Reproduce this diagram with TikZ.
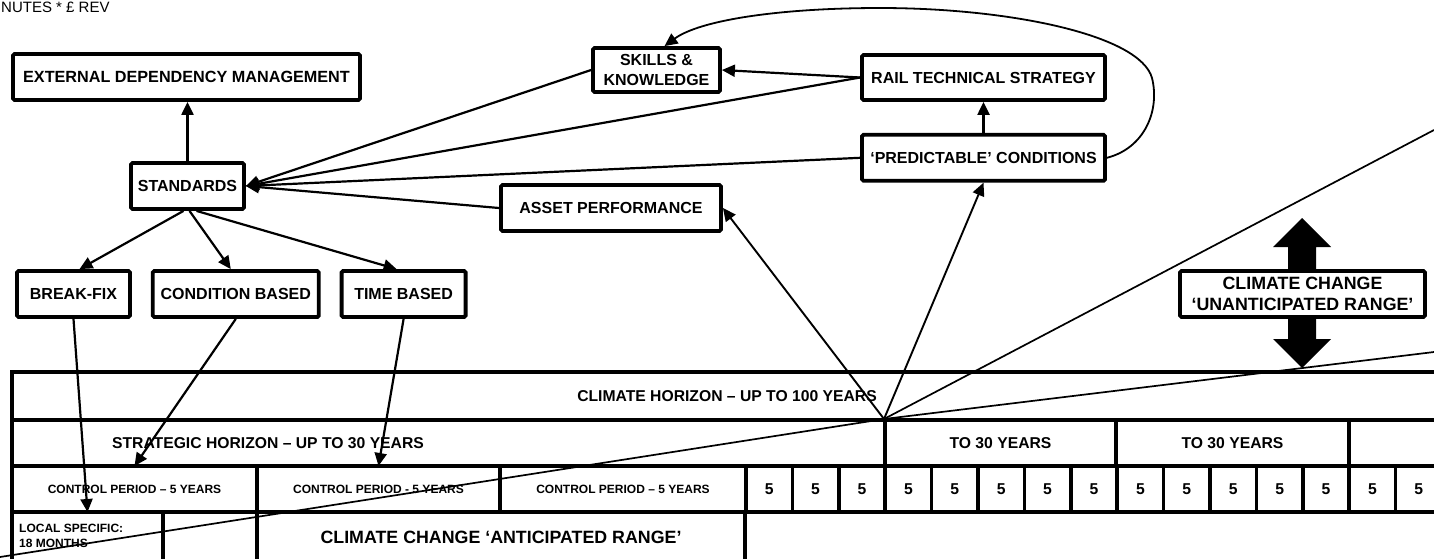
\documentclass[tikz,border=0pt]{standalone}
\usepackage{fontspec}
\setmainfont{Liberation Sans}
\usetikzlibrary{arrows.meta, positioning}

\begin{document}
\begin{tikzpicture}[x=1pt, y=-1pt,
    box/.style={draw, line width=3.8pt, rounded corners=1.5pt, fill=white, inner sep=0pt, align=center, font=\fontsize{16}{20}\selectfont\bfseries, minimum height=46pt},
    cell/.style={draw, line width=3.6pt, inner sep=0pt, outer sep=0pt, anchor=north west, minimum height=46pt, align=center, font=\fontsize{15.7}{19}\selectfont\bfseries},
    small/.style={font=\fontsize{12}{15}\selectfont\bfseries},
    conn/.style={line width=2.2pt, -{Triangle[length=13pt, width=12pt]}},
    ray/.style={line width=1.7pt},
    node distance=19pt
  ]
  \useasboundingbox (0,0) rectangle (1434,558);
  \clip (0,0) rectangle (1434,558);

  \node[anchor=base west, inner sep=0pt, font=\fontsize{15}{18}\selectfont] (header) at (1,12.5) {NUTES * £ REV};

  % maintenance side
  \node[box, minimum width=347pt, font=\fontsize{16.2}{20}\selectfont\bfseries] (extdep) at (186.5,77) {EXTERNAL DEPENDENCY MANAGEMENT};
  \node[box, minimum width=113pt] (standards) at (187.5,186) {STANDARDS};
  \node[box, minimum width=113pt] (breakfix) at (73.5,294) {BREAK-FIX};
  \node[box, minimum width=166pt, right=of breakfix] (condbased) {CONDITION BASED};
  \node[box, minimum width=124pt, right=of condbased] (timebased) {TIME BASED};

  % strategy side
  \node[box, minimum width=127pt, minimum height=44pt] (skills) at (656.5,70) {SKILLS \&\\KNOWLEDGE};
  \node[box, minimum width=243pt, minimum height=45pt] (railtech) at (983.5,77.5) {RAIL TECHNICAL STRATEGY};
  \node[box, minimum width=243pt, below=31pt of railtech] (predict) {‘PREDICTABLE’ CONDITIONS};
  \node[box, minimum width=220pt] (asset) at (611,208) {ASSET PERFORMANCE};

  \fill (1302,218) -- (1331,247) -- (1316,247) -- (1316,339) -- (1331,339) -- (1302,368)
    -- (1273,339) -- (1288,339) -- (1288,247) -- (1273,247) -- cycle;
  \node[box, minimum width=245pt, font=\fontsize{17.8}{21.5}\selectfont\bfseries] (unantic) at (1302.5,294) {CLIMATE CHANGE\\‘UNANTICIPATED RANGE’};

  % horizons table
  \node[cell, minimum width=1430pt, minimum height=48pt] (climhor) at (12,372) {CLIMATE HORIZON – UP TO 100 YEARS};
  \node[cell, minimum width=873pt] (strathor) at (12,420) {};
  \node[font=\fontsize{15.7}{19}\selectfont\bfseries, inner sep=0pt] (strattext) at (268,443) {STRATEGIC HORIZON – UP TO 30 YEARS};
  \node[cell, minimum width=231pt] (thirtyA) at (885,420) {TO 30 YEARS};
  \node[cell, minimum width=233pt] (thirtyB) at (1116,420) {TO 30 YEARS};
  \node[cell, minimum width=93pt] (thirtyC) at (1349,420) {};

  \node[cell, small, minimum width=245pt] (ctrlA) at (12,466) {CONTROL PERIOD – 5 YEARS};
  \node[cell, small, minimum width=243pt] (ctrlB) at (257,466) {CONTROL PERIOD - 5 YEARS};
  \node[cell, small, minimum width=246pt] (ctrlC) at (500,466) {CONTROL PERIOD – 5 YEARS};
  \foreach \i in {0,...,14}
    \node[cell, minimum width=46.4pt] (five\i) at ({746+46.4*\i},466) {5};

  \node[cell, minimum width=151pt, minimum height=50pt] (local) at (12,512) {};
  \node[small, align=left, anchor=north west, inner sep=0pt] (localtext) at (19,524) {LOCAL SPECIFIC:\\18 MONTHS};
  \node[cell, minimum width=488pt, minimum height=50pt, font=\fontsize{17.8}{21}\selectfont\bfseries] (antic) at (257,512) {CLIMATE CHANGE ‘ANTICIPATED RANGE’};

  % connectors
  \draw[conn] (standards.north) -- (standards.north |- extdep.south);
  \draw[conn] ([xshift=-4pt]standards.south) -- ([xshift=6pt]breakfix.north);
  \draw[conn] ([xshift=2pt]standards.south) -- ([xshift=-5pt]condbased.north);
  \draw[conn] ([xshift=9pt]standards.south) -- ([xshift=-7pt]timebased.north);

  \draw[conn] (skills.west) -- (standards.east);
  \draw[conn] (railtech.west) -- (standards.east);
  \draw[conn] (predict.west) -- (standards.east);
  \draw[conn] (asset.west) -- (standards.east);
  \draw[conn] (railtech.west) -- (skills.east);
  \draw[conn] (predict) -- (railtech);
  \draw[conn, line width=1.8pt] (predict.east) .. controls (1145,148) and (1160,110) .. (1152,78)
    .. controls (1140,35) and (1010,8) .. (880,8)
    .. controls (780,8) and (700,20) .. ([xshift=8pt]skills.north);

  \draw[conn] (breakfix.south) -- (local.north);
  \draw[conn] (condbased.south) -- (ctrlA.north);
  \draw[conn] (timebased.south) -- (ctrlB.north);

  % horizon rays
  \coordinate (fan) at (884,419);
  \coordinate (farA) at (1434,130);
  \coordinate (farB) at (1434,352);
  \coordinate (farC) at (0,557);
  \draw[conn, line width=1.9pt] (fan) -- (asset.east);
  \draw[conn, line width=1.9pt] (fan) -- (predict.south);
  \draw[ray] (fan) -- (farA);
  \draw[ray] (fan) -- (farB);
  \draw[ray] (fan) -- (farC);
\end{tikzpicture}
\end{document}
